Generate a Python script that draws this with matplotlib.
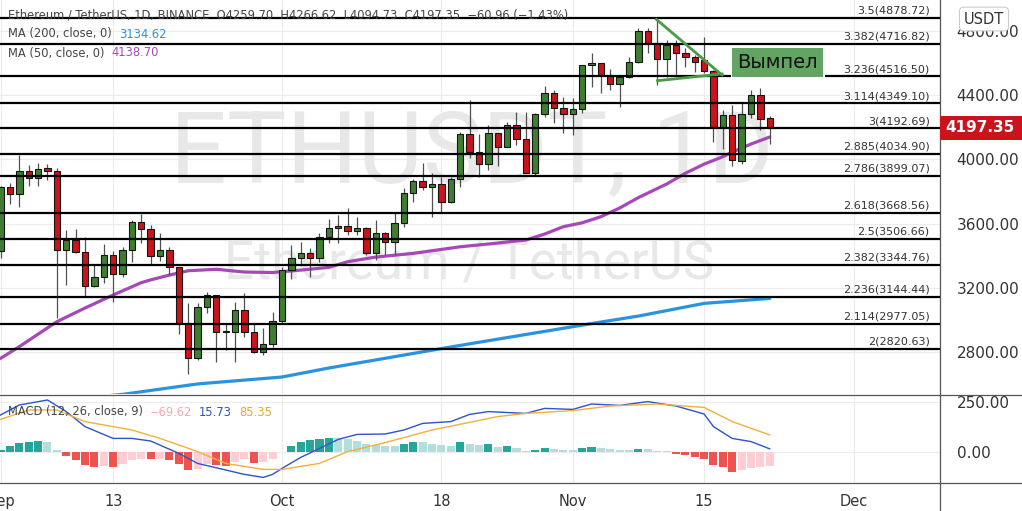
import numpy as np
import pandas as pd
import matplotlib
matplotlib.use('Agg')
import matplotlib.pyplot as plt
import matplotlib.dates as mdates
from matplotlib.lines import Line2D
from matplotlib.patches import Rectangle
from matplotlib.transforms import blended_transform_factory

# daily candles, 2021-09-01 .. 2021-11-22
dates = pd.date_range('2021-09-01', '2021-11-22', freq='D')
opens = [3430, 3826, 3782, 3929, 3882, 3946, 3925, 3436, 3498, 3422,
         3212, 3266, 3403, 3285, 3436, 3610, 3565, 3397, 3434, 3328,
         2980, 2766, 3080, 3154, 2928, 2924, 3063, 2924, 2803, 2849,
         2996, 3310, 3384, 3415, 3384, 3519, 3571, 3585, 3556, 3571,
         3415, 3540, 3488, 3602, 3788, 3863, 3826, 3845, 3736, 3877,
         4157, 4047, 3971, 4165, 4075, 4213, 4124, 3917, 4282, 4410,
         4317, 4282, 4311, 4586, 4601, 4524, 4468, 4514, 4607, 4800,
         4721, 4622, 4711, 4659, 4634, 4617, 4551, 4203, 4275, 3991,
         4282, 4400, 4259.70]
highs = [3834, 3854, 4027, 3964, 3979, 3971, 3944, 3560, 3567, 3517,
         3343, 3473, 3430, 3456, 3622, 3660, 3591, 3540, 3456, 3332,
         3104, 3106, 3177, 3156, 2980, 3114, 3167, 2982, 2949, 3052,
         3332, 3467, 3488, 3446, 3540, 3627, 3654, 3695, 3639, 3581,
         3622, 3550, 3664, 3820, 3875, 3975, 3913, 3892, 3892, 4172,
         4369, 4157, 4213, 4165, 4234, 4296, 4296, 4290, 4456, 4431,
         4389, 4379, 4586, 4663, 4601, 4560, 4524, 4638, 4815, 4815,
         4866, 4742, 4742, 4690, 4649, 4762, 4555, 4307, 4338, 4348,
         4431, 4442, 4266.62]
lows = [3386, 3722, 3705, 3834, 3834, 3871, 3011, 3218, 3417, 3150,
        3204, 3233, 3114, 3270, 3363, 3478, 3349, 3369, 3280, 2913,
        2663, 2752, 3042, 2741, 2814, 2741, 2897, 2797, 2783, 2834,
        2980, 3254, 3336, 3270, 3363, 3478, 3478, 3529, 3529, 3405,
        3374, 3405, 3405, 3581, 3733, 3809, 3643, 3674, 3726, 3829,
        4006, 3892, 3933, 3958, 4075, 4089, 3913, 3902, 4265, 4228,
        4165, 4151, 4286, 4451, 4414, 4431, 4327, 4504, 4597, 4659,
        4462, 4514, 4524, 4576, 4545, 4535, 4109, 4062, 3958, 3971,
        4255, 4182, 4094.73]
closes = [3826, 3782, 3929, 3882, 3942, 3927, 3436, 3498, 3422, 3212,
          3266, 3403, 3285, 3436, 3610, 3565, 3397, 3436, 3330, 2984,
          2766, 3080, 3154, 2928, 2926, 3063, 2924, 2803, 2849, 2996,
          3310, 3384, 3415, 3384, 3515, 3571, 3585, 3556, 3571, 3415,
          3540, 3488, 3602, 3788, 3863, 3826, 3845, 3736, 3877, 4157,
          4047, 3971, 4165, 4075, 4213, 4124, 3917, 4282, 4410, 4317,
          4282, 4311, 4586, 4601, 4524, 4468, 4510, 4607, 4800, 4721,
          4622, 4711, 4659, 4634, 4607, 4551, 4203, 4275, 3996, 4282,
          4400, 4249, 4197.35]

# MACD histogram, one bar per day
hist = [12, 28, 45, 50, 53, 48, 8, -20, -42, -67,
        -75, -72, -75, -62, -42, -33, -37, -35, -42, -62,
        -88, -83, -58, -67, -72, -50, -33, -55, -50, -33,
        2, 28, 50, 62, 67, 72, 70, 65, 55, 40,
        33, 32, 31, 38, 50, 48, 42, 33, 32, 50,
        40, 33, 38, 25, 30, 20, 3, 8, 22, 17,
        12, 8, 22, 27, 20, 14, 12, 11, 17, 13,
        5, 3, -8, -13, -25, -37, -67, -75, -100, -88,
        -78, -75, -69.62]

ma50_dates = ['2021-09-01', '2021-09-03', '2021-09-07', '2021-09-10', '2021-09-13', '2021-09-16',
              '2021-09-17', '2021-09-19', '2021-09-21', '2021-09-24', '2021-09-27', '2021-09-30',
              '2021-10-03', '2021-10-06', '2021-10-08', '2021-10-11', '2021-10-15', '2021-10-20',
              '2021-10-24', '2021-10-25', '2021-10-27', '2021-10-29', '2021-10-31', '2021-11-02',
              '2021-11-04', '2021-11-06', '2021-11-08', '2021-11-11', '2021-11-13', '2021-11-15',
              '2021-11-17', '2021-11-18', '2021-11-20', '2021-11-22']
ma50_vals = [2762, 2835, 2990, 3075, 3156, 3233, 3250, 3280, 3307, 3316, 3299, 3296,
             3311, 3328, 3363, 3392, 3415, 3456, 3479, 3486, 3498, 3535, 3581, 3605,
             3643, 3697, 3762, 3846, 3913, 3970, 4016, 4045, 4095, 4138.70]

ma200_dates = ['2021-09-01', '2021-09-14', '2021-09-22', '2021-10-01', '2021-10-06', '2021-10-19',
               '2021-11-04', '2021-11-08', '2021-11-15', '2021-11-22']
ma200_vals = [2470, 2538, 2603, 2646, 2702, 2833, 2988, 3025, 3104, 3134.62]

macd_dates = ['2021-09-01', '2021-09-03', '2021-09-06', '2021-09-08', '2021-09-10', '2021-09-13',
              '2021-09-15', '2021-09-17', '2021-09-20', '2021-09-22', '2021-09-25', '2021-09-27',
              '2021-09-29', '2021-09-30', '2021-10-01', '2021-10-03', '2021-10-05', '2021-10-07',
              '2021-10-09', '2021-10-12', '2021-10-14', '2021-10-16', '2021-10-19', '2021-10-21',
              '2021-10-23', '2021-10-27', '2021-10-29', '2021-11-01', '2021-11-03', '2021-11-06',
              '2021-11-09', '2021-11-12', '2021-11-15', '2021-11-16', '2021-11-18', '2021-11-20',
              '2021-11-22']
macd_vals = [185, 235, 260, 202, 127, 68, 68, 55, -7, -57, -90, -112, -127, -112, -82, -27,
             18, 63, 88, 90, 110, 143, 152, 188, 202, 193, 218, 213, 240, 233, 252, 230,
             190, 127, 68, 52, 15.73]

signal_dates = ['2021-09-01', '2021-09-04', '2021-09-07', '2021-09-10', '2021-09-15', '2021-09-18',
                '2021-09-22', '2021-09-25', '2021-09-29', '2021-10-01', '2021-10-05', '2021-10-08',
                '2021-10-12', '2021-10-17', '2021-10-24', '2021-10-27', '2021-11-01', '2021-11-05',
                '2021-11-10', '2021-11-15', '2021-11-18', '2021-11-22']
signal_vals = [163, 210, 210, 152, 110, 68, 2, -57, -87, -87, -57, 2, 47, 110, 177, 193,
               207, 230, 240, 223, 152, 85.35]

fib_ratios = ['3.5', '3.382', '3.236', '3.114', '3', '2.885', '2.786', '2.618', '2.5',
              '2.382', '2.236', '2.114', '2']
fib_levels = [4878.72, 4716.82, 4516.50, 4349.10, 4192.69, 4034.90, 3899.07, 3668.56,
              3506.66, 3344.76, 3144.44, 2977.05, 2820.63]

tick_dates = ['2021-09-01', '2021-09-13', '2021-10-01', '2021-10-18', '2021-11-01', '2021-11-15', '2021-12-01']
tick_labels = ['Sep', '13', 'Oct', '18', 'Nov', '15', 'Dec']
price_ticks = [2800, 3200, 3600, 4000, 4400, 4800]

# pennant drawn on the chart
pennant_top = (['2021-11-09 22:00', '2021-11-16 22:00'], [4870, 4524])
pennant_bottom = (['2021-11-10 01:00', '2021-11-16 22:00'], [4489, 4531])

GREEN = '#3f7d30'
RED = '#c8141a'
W, H = 1022, 511


def num(d):
    return mdates.date2num(pd.to_datetime(d))


fig = plt.figure(figsize=(W / 100, H / 100), dpi=100)
ax = fig.add_axes([0, 1 - 394 / H, 940 / W, 394 / H])
axm = fig.add_axes([0, 1 - 483 / H, 940 / W, 88 / H])

x = mdates.date2num(dates)
oct1 = num('2021-10-01')
xlim = (oct1 - 30.06, oct1 + 70.15)
o, hi, lo, c = map(np.array, (opens, highs, lows, closes))

for a in (ax, axm):
    a.set_xlim(*xlim)
    for s in a.spines.values():
        s.set_visible(False)
    a.set_xticks(num(tick_dates))
    a.yaxis.tick_right()
    a.tick_params(axis='both', length=0, labelcolor='#333333', labelsize=11)
    for t in num(tick_dates):
        a.axvline(t, color='#ececec', lw=0.8, zorder=0)

ax.set_ylim(2540.4, 4990.7)
ax.set_xticklabels([])
ax.set_yticks(price_ticks)
ax.set_yticklabels(['%.2f' % p for p in price_ticks])
ax.tick_params(axis='y', pad=12)
for p in price_ticks:
    ax.axhline(p, color='#ececec', lw=0.8, zorder=0)

# watermark
ax.text(0.502, 0.5355, 'ETHUSDT, 1D', transform=ax.transAxes, ha='center', va='baseline',
        fontsize=72, family='Roboto', color='#e8e8e8', zorder=0.5)
ax.text(0.499, 0.294, 'Ethereum / TetherUS', transform=ax.transAxes, ha='center', va='baseline',
        fontsize=38, family='Roboto', color='#e8e8e8', zorder=0.5)

# moving averages
ax.plot(num(ma200_dates), ma200_vals, color='#2a93e0', lw=2.3, zorder=2,
        solid_capstyle='round', solid_joinstyle='round')
ax.plot(num(ma50_dates), ma50_vals, color='#a648b8', lw=2.3, zorder=2,
        solid_capstyle='round', solid_joinstyle='round')

# candles
up = c >= o
ax.vlines(x, lo, hi, color='#505050', lw=0.9, zorder=3)
ax.bar(x, np.maximum(np.abs(c - o), 4), bottom=np.minimum(o, c), width=0.68,
       color=np.where(up, GREEN, RED), edgecolor='#151515', lw=0.8, zorder=4)

# fibonacci extension levels
gap = (num('2021-11-17 20:00'), num('2021-11-27 22:00'))
for r, lv in zip(fib_ratios, fib_levels):
    if r == '3.236':
        ax.hlines(lv, xlim[0], gap[0], color='black', lw=1.6, zorder=5)
        ax.hlines(lv, gap[1], xlim[1], color='black', lw=1.6, zorder=5)
    else:
        ax.hlines(lv, xlim[0], xlim[1], color='black', lw=1.6, zorder=5)
    ax.annotate('%s(%.2f)' % (r, lv), xy=(0.989, lv), xycoords=('axes fraction', 'data'),
                xytext=(0, 1.5), textcoords='offset points', ha='right', va='bottom',
                fontsize=8, color='#333333', zorder=6)

# pennant
ax.plot(num(pennant_top[0]), pennant_top[1], color='#4b9a45', lw=2, zorder=6)
ax.plot(num(pennant_bottom[0]), pennant_bottom[1], color='#4b9a45', lw=2, zorder=6)
ax.text(num('2021-11-22 20:00'), 4603, 'Вымпел', ha='center', va='center', fontsize=14,
        color='#111111', zorder=7,
        bbox=dict(boxstyle='square,pad=0.25', facecolor='#62a462', edgecolor='none'))

# MACD pane
axm.set_ylim(-155, 285)
axm.set_xticklabels(tick_labels, fontsize=10.5)
axm.tick_params(axis='x', pad=8)
axm.set_yticks([0, 250])
axm.set_yticklabels(['0.00', '250.00'])
axm.tick_params(axis='y', pad=12)
axm.axhline(0, color='#ececec', lw=0.8, zorder=0)
axm.axhline(250, color='#ececec', lw=0.8, zorder=0)

hv = np.array(hist)
prev = np.concatenate([[0], hv[:-1]])
hcol = np.where(hv >= 0, np.where(hv > prev, '#26a69a', '#b2dfdb'),
                np.where(hv < prev, '#ef5350', '#ffcdd2'))
axm.bar(x, hv, width=0.86, color=hcol, zorder=2)
axm.plot(num(macd_dates), macd_vals, color='#2b55c8', lw=1, zorder=3)
axm.plot(num(signal_dates), signal_vals, color='#f2b03d', lw=1, zorder=3)

# pane separators
for yy in (395, 483):
    fig.add_artist(Line2D([0, 1], [1 - yy / H] * 2, color='#555555', lw=0.9))
fig.add_artist(Line2D([940 / W] * 2, [0, 1], color='#555555', lw=0.9))

# legends on top-left
t = fig.text(8 / W, 1 - 15 / H, 'Ethereum / TetherUS, 1D, BINANCE  O4259.70  H4266.62  L4094.73  '
             'C4197.35  \u221260.96 (\u22121.43%)', fontsize=8.3, color='#444444', va='center')
t = fig.text(8 / W, 1 - 34 / H, 'MA (200, close, 0)', fontsize=8.3, color='#444444', va='center')
ax.annotate('3134.62', xy=(1, 0), xycoords=t, xytext=(5, 0), textcoords='offset points',
            fontsize=8.3, color='#2a93e0', va='bottom')
t = fig.text(8 / W, 1 - 53 / H, 'MA (50, close, 0)', fontsize=8.3, color='#444444', va='center')
ax.annotate('4138.70', xy=(1, 0), xycoords=t, xytext=(5, 0), textcoords='offset points',
            fontsize=8.3, color='#a648b8', va='bottom')
t = fig.text(8 / W, 1 - 412 / H, 'MACD (12, 26, close, 9)', fontsize=8.3, color='#444444', va='center')
t = axm.annotate('\u221269.62', xy=(1, 0), xycoords=t, xytext=(5, 0), textcoords='offset points',
                 fontsize=8.3, color='#f4a9b2', va='bottom')
t = axm.annotate('15.73', xy=(1, 0), xycoords=t, xytext=(5, 0), textcoords='offset points',
                 fontsize=8.3, color='#2b55c8', va='bottom')
axm.annotate('85.35', xy=(1, 0), xycoords=t, xytext=(5, 0), textcoords='offset points',
             fontsize=8.3, color='#e8a830', va='bottom')

# USDT badge and last price marker
fig.text(984 / W, 1 - 19 / H, 'USDT', ha='center', va='center', fontsize=10.5, color='#333333',
         bbox=dict(boxstyle='round,pad=0.3', facecolor='white', edgecolor='#cccccc', lw=0.8))
tr = blended_transform_factory(fig.transFigure, ax.transData)
fig.add_artist(Rectangle((940 / W, closes[-1] - 75), 82 / W, 150, transform=tr,
                         facecolor='#c8141a', edgecolor='none', zorder=10))
fig.text(980 / W, 1 - 128 / H, '%.2f' % closes[-1], ha='center', va='center', fontsize=11,
         fontweight='bold', color='white', zorder=11)

fig.savefig('out.png', dpi=100)
